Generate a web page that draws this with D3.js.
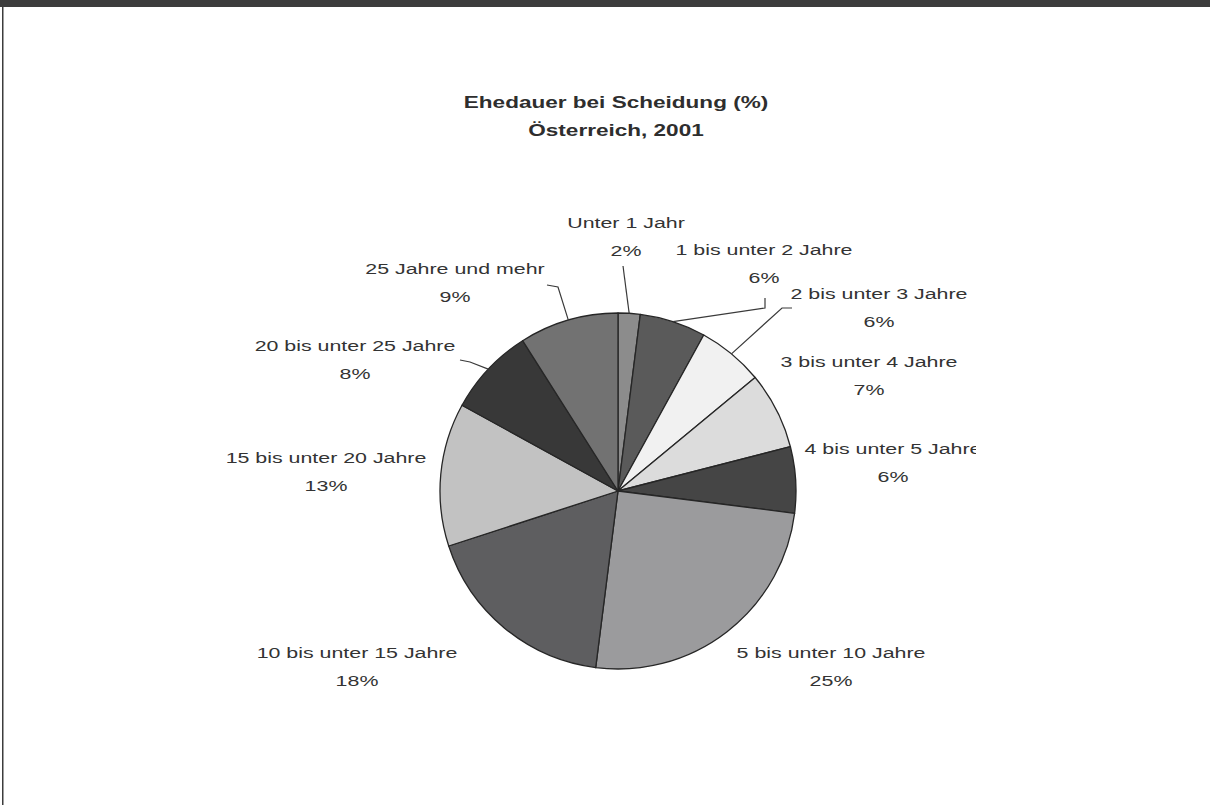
<!DOCTYPE html>
<html>
<head>
<meta charset="utf-8">
<script src="https://cdn.jsdelivr.net/npm/d3@7"></script>
<style>
  body { margin: 0; background: #fff; }
  svg { display: block; font-family: "Liberation Sans", Arial, sans-serif; }
</style>
</head>
<body>
<script>
// Ehedauer bei Scheidung, Österreich 2001
var categories = ["Unter 1 Jahr", "1 bis unter 2 Jahre", "2 bis unter 3 Jahre", "3 bis unter 4 Jahre",
                  "4 bis unter 5 Jahre", "5 bis unter 10 Jahre", "10 bis unter 15 Jahre",
                  "15 bis unter 20 Jahre", "20 bis unter 25 Jahre", "25 Jahre und mehr"];
var values = [2, 6, 6, 7, 6, 25, 18, 13, 8, 9];
var titleLines = ["Ehedauer bei Scheidung (%)", "Österreich, 2001"];

var fills = ["#8c8c8c", "#5a5a5a", "#f1f1f1", "#dcdcdc", "#454545",
             "#9b9b9d", "#5e5e60", "#c2c2c2", "#383838", "#727272"];

var width = 1210, height = 805;
var cx = 618, cy = 491, radius = 178;
var stretch = 1.38;      // the scan is a bit wider than tall for text
var titleStretch = 1.41;

// label placement (centre of the first text line), set by hand like in the original
var labelPos = [[626, 222], [764, 249], [879, 293], [869, 361], [893, 448],
                [831, 652], [357, 652], [326, 457], [355, 345], [455, 268]];
// leader lines: extra points after the point on the pie edge (null = no leader)
var leaders = [
  [[623, 266]],
  [[765, 308], [765, 298]],
  [[782, 308], [792, 308]],
  null, null, null, null, null,
  [[470, 362], [460, 360]],
  [[558, 287], [547, 285]]
];

var svg = d3.select("body").append("svg")
    .attr("width", width)
    .attr("height", height);

// frame
svg.append("rect").attr("x", 0).attr("y", 0).attr("width", width).attr("height", 7).attr("fill", "#3c3c3c");
svg.append("rect").attr("x", 2).attr("y", 0).attr("width", 1.5).attr("height", height).attr("fill", "#3c3c3c");

// title
svg.selectAll("text.title")
   .data(titleLines)
   .enter()
   .append("text")
   .attr("class", "title")
   .attr("transform", function(d, i) { return "translate(616," + (108 + i * 28) + ") scale(" + titleStretch + ",1)"; })
   .attr("text-anchor", "middle")
   .attr("font-size", "16px")
   .attr("font-weight", "bold")
   .attr("fill", "#2e2e2e")
   .text(function(d) { return d; });

var pie = d3.pie().sort(null).value(function(d) { return d; });
var arcs = pie(values);
var arc = d3.arc().innerRadius(0).outerRadius(radius);

var g = svg.append("g").attr("transform", "translate(" + cx + "," + cy + ")");

g.selectAll("path.slice")
 .data(arcs)
 .enter()
 .append("path")
 .attr("class", "slice")
 .attr("d", arc)
 .attr("fill", function(d, i) { return fills[i]; })
 .attr("stroke", "#262626")
 .attr("stroke-width", 1.3)
 .attr("stroke-linejoin", "round");

// leader lines, starting on the pie edge at mid angle
var line = d3.line();
svg.selectAll("path.leader")
   .data(arcs.filter(function(d, i) { return leaders[i]; }))
   .enter()
   .append("path")
   .attr("class", "leader")
   .attr("d", function(d) {
     var a = (d.startAngle + d.endAngle) / 2;
     var p0 = [cx + Math.sin(a) * radius, cy - Math.cos(a) * radius];
     return line([p0].concat(leaders[d.index]));
   })
   .attr("fill", "none")
   .attr("stroke", "#3a3a3a")
   .attr("stroke-width", 1.2);

// labels (clipped at the right like the original scan)
svg.append("clipPath").attr("id", "clip")
   .append("rect").attr("x", 0).attr("y", 0).attr("width", 976).attr("height", height);

var labels = svg.append("g").attr("clip-path", "url(#clip)")
   .selectAll("text.label")
   .data(arcs)
   .enter()
   .append("text")
   .attr("class", "label")
   .attr("text-anchor", "middle")
   .attr("font-size", "15.5px")
   .attr("fill", "#333")
   .attr("transform", function(d) {
     var p = labelPos[d.index];
     return "translate(" + p[0] + "," + (p[1] + 6) + ") scale(" + stretch + ",1)";
   });

labels.append("tspan")
   .attr("x", 0).attr("y", 0)
   .text(function(d) { return categories[d.index]; });
labels.append("tspan")
   .attr("x", 0).attr("y", 28.5)
   .text(function(d) { return d.data + "%"; });
</script>
</body>
</html>
